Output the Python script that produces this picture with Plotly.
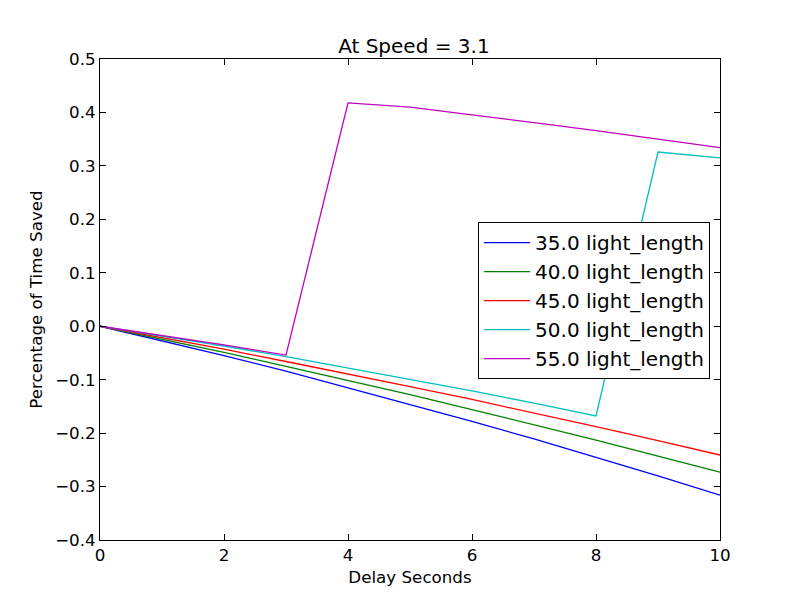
import plotly.graph_objects as go

delay = [0, 1, 2, 3, 4, 5, 6, 7, 8, 9, 10]
labels = ["35.0 light_length", "40.0 light_length", "45.0 light_length",
          "50.0 light_length", "55.0 light_length"]
s35 = [0, -0.027, -0.055, -0.084, -0.115, -0.146, -0.178, -0.211, -0.245, -0.280, -0.316]
s40 = [0, -0.024, -0.049, -0.075, -0.101, -0.128, -0.156, -0.184, -0.213, -0.243, -0.273]
s45 = [0, -0.021, -0.043, -0.066, -0.089, -0.113, -0.137, -0.162, -0.188, -0.214, -0.241]
s50 = [0, -0.018, -0.037, -0.057, -0.078, -0.099, -0.121, -0.144, -0.168, 0.326, 0.315]
s55 = [0, -0.017, -0.035, -0.054, 0.418, 0.410, 0.396, 0.381, 0.366, 0.350, 0.334]
series = [s35, s40, s45, s50, s55]
colors = ["#0000ff", "#008000", "#ff0000", "#00bfbf", "#bf00bf"]

fig = go.Figure()
for name, ys, c in zip(labels, series, colors):
    fig.add_trace(go.Scatter(x=delay, y=ys, mode="lines", name=name,
                             line=dict(color=c, width=1.3)))

axis_common = dict(showgrid=False, zeroline=False, showline=True, linecolor="black",
                   linewidth=1, mirror="allticks", ticks="inside", ticklen=6,
                   tickcolor="black", tickfont=dict(size=16.7, color="black"))
fig.update_layout(
    width=792, height=592,
    margin=dict(l=92, r=80, t=51, b=60),
    paper_bgcolor="white", plot_bgcolor="white",
    font=dict(family="DejaVu Sans", color="black"),
    title=dict(text="At Speed = 3.1", x=0.5125, xanchor="center", y=0.936, yanchor="middle",
               font=dict(size=20, color="black")),
    xaxis=dict(range=[0, 10], tickvals=[0, 2, 4, 6, 8, 10],
               title=dict(text="Delay Seconds", font=dict(size=16.7), standoff=7),
               **axis_common),
    yaxis=dict(range=[-0.4, 0.5], tickvals=[-0.4, -0.3, -0.2, -0.1, 0, 0.1, 0.2, 0.3, 0.4, 0.5],
               tickformat=".1f",
               title=dict(text="Percentage of Time Saved", font=dict(size=16.7), standoff=8),
               **axis_common),
    legend=dict(x=0.984, xanchor="right", y=0.661, yanchor="top",
                bordercolor="black", borderwidth=1, bgcolor="white",
                font=dict(size=20, color="black"), itemwidth=46),
    showlegend=True,
)
fig.write_html("out.html")
